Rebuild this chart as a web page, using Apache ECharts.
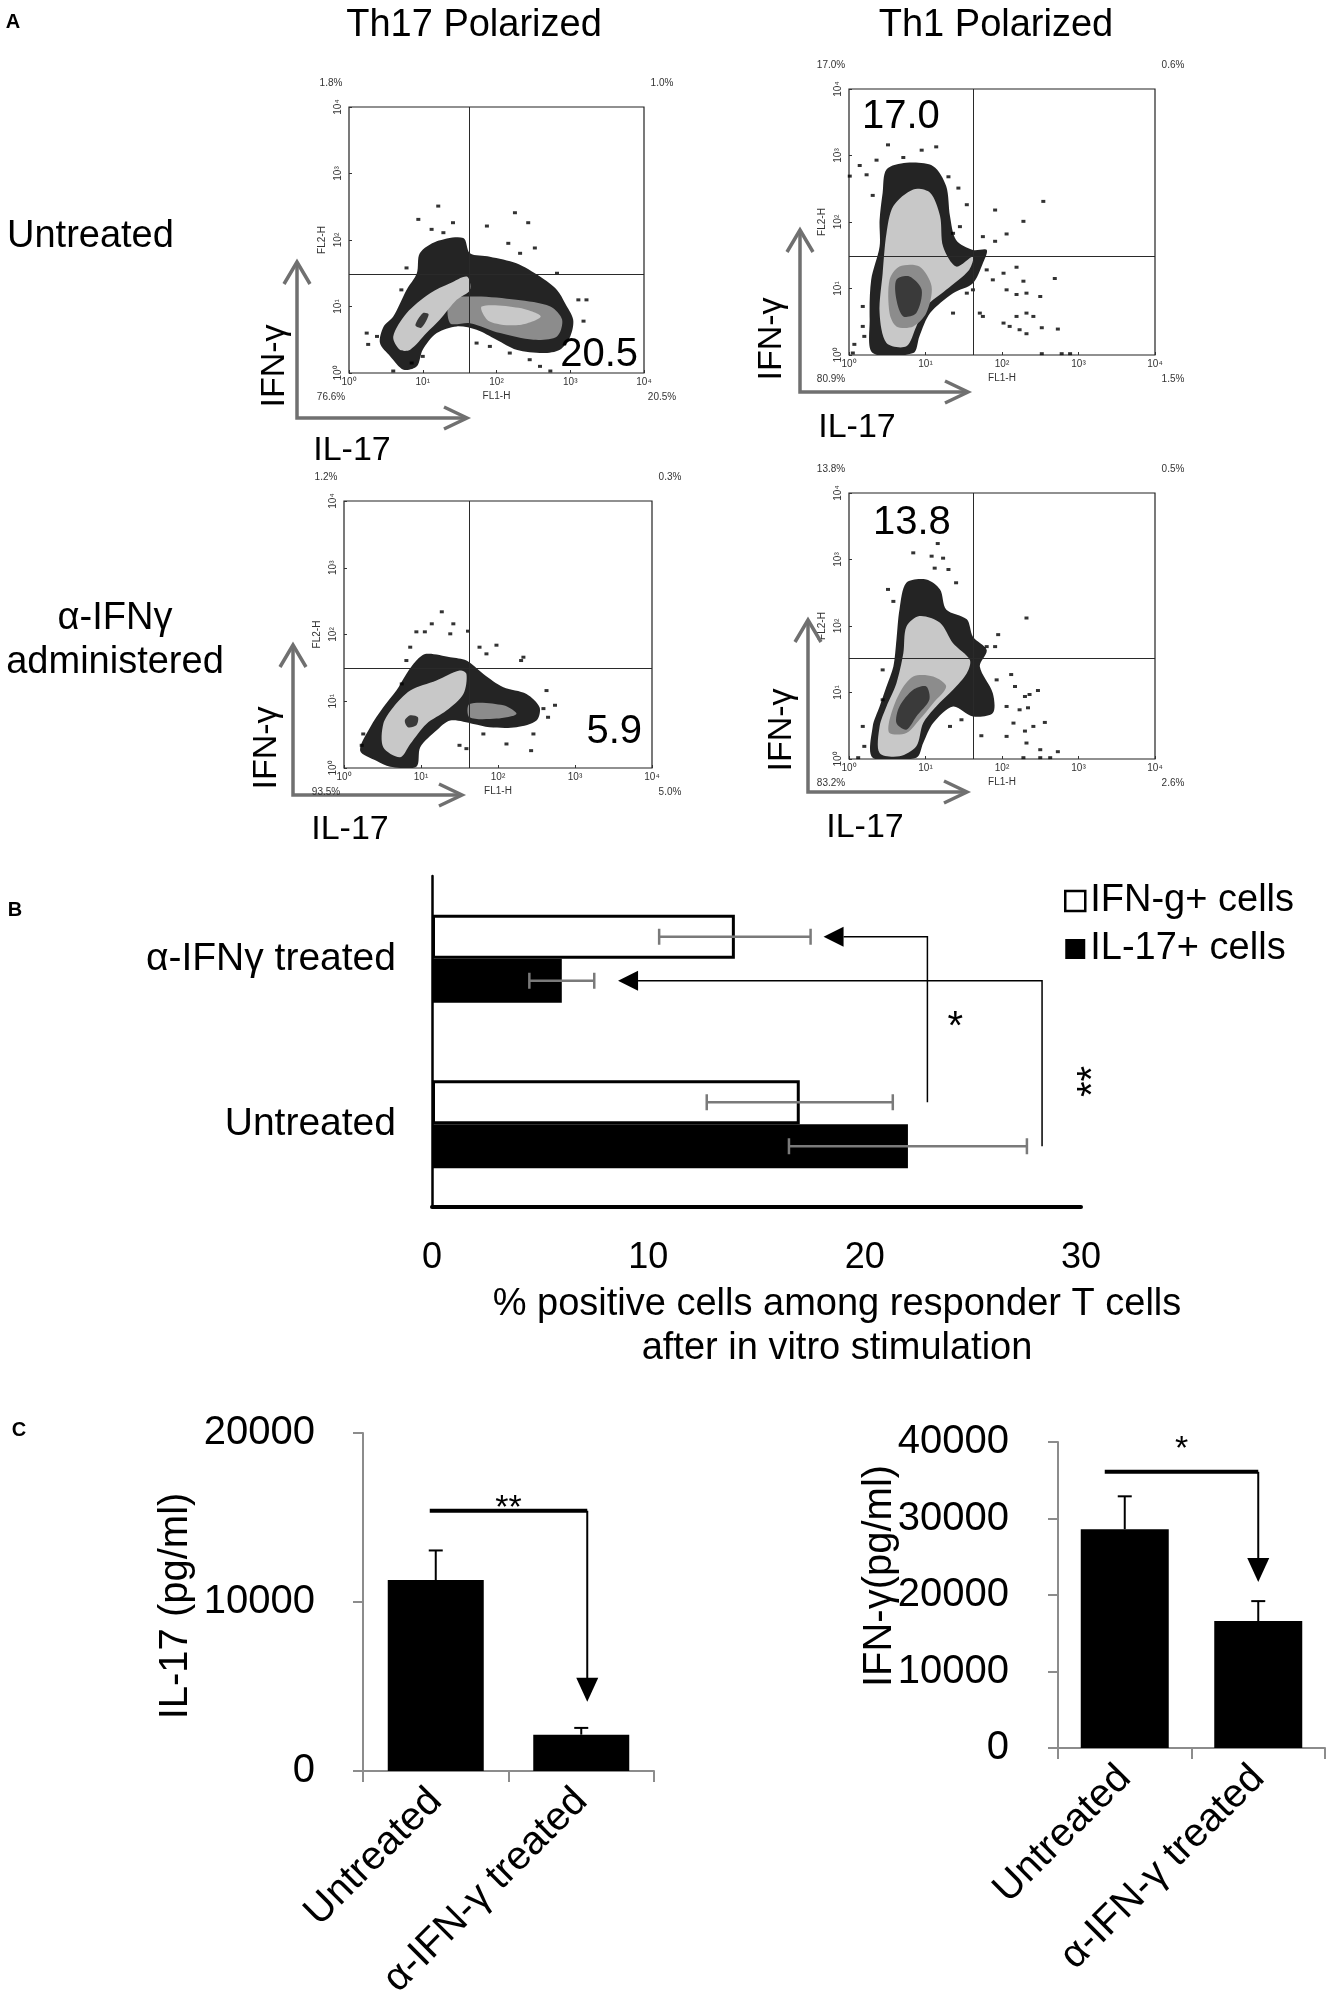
<!DOCTYPE html>
<html>
<head>
<meta charset="utf-8">
<script src="https://cdn.jsdelivr.net/npm/echarts@6/dist/echarts.min.js"></script>
<style>
  html, body { margin: 0; padding: 0; background: #fff; }
  #chart { width: 1326px; height: 2012px; }
</style>
</head>
<body>
<div id="chart"></div>
<script>
(() => {
  "use strict";

  const FONT = '"Liberation Sans", Arial, Helvetica, sans-serif';

  // ---------- panel A: flow plots, log10 units (FL1-H = IL-17, FL2-H = IFN-γ)
  const columnTitles = ["Th17 Polarized", "Th1 Polarized"];
  const rowTitles = ["Untreated", "α-IFNγ\nadministered"];
  const flowTickLabels = ["10⁰", "10¹", "10²", "10³", "10⁴"];
  const quadrantGates = [[1.63, 1.49], [1.63, 1.48], [1.63, 1.50], [1.62, 1.51]];
  const quadrantPercents = [
    ["1.8%", "1.0%", "76.6%", "20.5%"],
    ["17.0%", "0.6%", "80.9%", "1.5%"],
    ["1.2%", "0.3%", "93.5%", "5.0%"],
    ["13.8%", "0.5%", "83.2%", "2.6%"]
  ];
  const highlightValues = ["20.5", "17.0", "5.9", "13.8"];

  // density layers: [level, outline]; 0 = dark rim, 1 = light, 2 = mid, 3 = core
  const densityTh17Untreated = [
    [0, [[0.42,0.45],[0.47,0.70],[0.6,0.85],[0.78,1.25],[0.92,1.5],[0.96,1.8],[1.19,1.98],[1.55,2.03],[1.64,1.8],[1.91,1.75],[2.27,1.65],[2.59,1.45],[2.82,1.25],[2.93,1.05],[3.04,0.8],[3.0,0.55],[2.86,0.35],[2.63,0.30],[2.27,0.35],[2.0,0.5],[1.73,0.65],[1.46,0.70],[1.19,0.60],[1.0,0.35],[0.92,0.10],[0.74,0.05],[0.56,0.25]]],
    [2, [[1.37,1.1],[1.73,1.15],[2.27,1.1],[2.73,1.0],[2.89,0.8],[2.82,0.55],[2.5,0.5],[2.05,0.6],[1.64,0.75],[1.37,0.75]]],
    [1, [[1.8,1.0],[2.3,0.98],[2.6,0.85],[2.3,0.72],[1.9,0.78]]],
    [1, [[0.6,0.55],[0.78,0.9],[1.1,1.2],[1.37,1.35],[1.6,1.45],[1.64,1.25],[1.46,1.1],[1.23,0.8],[1.05,0.6],[0.83,0.35],[0.69,0.35]]],
    [3, [[0.9,0.72],[1.0,0.9],[1.08,0.88],[0.98,0.68]]]
  ];
  const densityTh1Untreated = [
    [0, [[0.31,0.03],[0.27,0.53],[0.29,1.13],[0.40,1.63],[0.40,2.03],[0.44,2.44],[0.49,2.79],[0.75,2.89],[1.1,2.84],[1.27,2.54],[1.32,2.09],[1.4,1.73],[1.62,1.58],[1.8,1.58],[1.75,1.38],[1.62,1.08],[1.36,0.93],[1.06,0.63],[0.92,0.28],[0.84,0.03]]],
    [1, [[0.49,0.18],[0.4,0.63],[0.44,1.23],[0.49,1.83],[0.58,2.24],[0.84,2.49],[1.06,2.44],[1.19,2.09],[1.23,1.63],[1.4,1.33],[1.62,1.48],[1.57,1.28],[1.27,0.98],[1.01,0.73],[0.88,0.43],[0.75,0.13]]],
    [2, [[0.53,0.63],[0.53,1.13],[0.66,1.33],[0.92,1.33],[1.08,1.03],[1.01,0.63],[0.84,0.43],[0.62,0.43]]],
    [3, [[0.62,0.83],[0.62,1.13],[0.79,1.18],[0.95,0.98],[0.88,0.63],[0.71,0.58]]]
  ];
  const densityTh17Treated = [
    [0, [[0.21,0.26],[0.34,0.61],[0.51,0.91],[0.68,1.16],[0.81,1.41],[0.94,1.61],[1.07,1.71],[1.38,1.66],[1.59,1.61],[1.81,1.41],[2.07,1.21],[2.37,1.11],[2.54,0.91],[2.50,0.71],[2.24,0.61],[1.89,0.61],[1.68,0.66],[1.38,0.71],[1.20,0.56],[0.99,0.31],[0.94,0.02],[0.6,0.02],[0.42,0.11]]],
    [2, [[1.63,0.96],[2.07,0.94],[2.24,0.81],[1.98,0.74],[1.63,0.76]]],
    [1, [[0.51,0.31],[0.51,0.66],[0.64,0.91],[0.86,1.16],[1.2,1.31],[1.5,1.46],[1.59,1.41],[1.55,1.11],[1.33,0.86],[1.07,0.66],[0.86,0.36],[0.73,0.16]]],
    [3, [[0.79,0.71],[0.86,0.79],[0.96,0.76],[0.94,0.64],[0.83,0.61]]]
  ];
  const densityTh1Treated = [
    [0, [[0.31,0.02],[0.31,0.49],[0.40,0.79],[0.49,1.09],[0.58,1.39],[0.62,1.79],[0.66,2.25],[0.75,2.65],[1.01,2.70],[1.19,2.55],[1.27,2.25],[1.54,2.10],[1.62,1.84],[1.8,1.64],[1.71,1.39],[1.88,0.99],[1.88,0.69],[1.62,0.64],[1.36,0.79],[1.1,0.54],[0.97,0.24],[0.88,0.02]]],
    [1, [[0.40,0.09],[0.40,0.49],[0.49,0.79],[0.62,1.14],[0.71,1.59],[0.75,1.99],[0.92,2.15],[1.19,2.05],[1.36,1.74],[1.58,1.49],[1.54,1.29],[1.36,1.04],[1.14,0.79],[0.97,0.54],[0.88,0.19],[0.66,0.04]]],
    [2, [[0.53,0.39],[0.53,0.59],[0.66,0.99],[0.84,1.24],[1.1,1.24],[1.27,1.09],[1.1,0.84],[0.92,0.59],[0.75,0.39]]],
    [3, [[0.62,0.54],[0.66,0.79],[0.84,1.04],[1.01,1.09],[1.05,0.89],[0.88,0.64],[0.75,0.44]]]
  ];

  // sparse events outside the dense clouds
  const eventsTh17Untreated = [[1.21,2.51],[0.94,2.31],[1.12,2.16],[1.28,2.11],[1.41,2.26],[1.87,2.21],[2.25,2.41],[2.43,2.26],[2.16,1.95],[2.32,1.8],[2.52,1.88],[2.82,1.5],[3.11,1.1],[3.22,1.1],[3.18,0.78],[0.24,0.6],[0.26,0.43],[0.38,0.55],[0.78,1.58],[0.71,1.25],[1.73,0.45],[1.91,0.4],[2.18,0.3],[2.45,0.2],[2.59,0.1],[2.73,0.03],[0.6,0.03],[0.85,0.15],[1.0,0.25]];
  const eventsTh1Untreated = [[0.51,3.16],[1.14,3.13],[0.95,3.08],[0.36,2.93],[0.14,2.85],[0.71,2.97],[0.23,2.71],[1.30,2.68],[1.43,2.51],[1.54,2.26],[0.31,2.4],[1.91,2.18],[2.28,2.01],[2.06,1.82],[2.54,2.31],[1.91,1.71],[1.75,1.78],[1.45,1.93],[1.36,1.83],[1.8,1.28],[1.88,1.13],[2.02,1.23],[2.19,1.32],[2.28,1.11],[2.06,0.98],[2.19,0.91],[2.32,0.93],[2.5,0.88],[2.69,1.15],[1.71,0.63],[1.75,0.58],[2.02,0.48],[2.1,0.43],[2.19,0.58],[2.32,0.63],[2.41,0.58],[2.32,0.32],[2.52,0.41],[2.73,0.39],[2.23,0.38],[1.62,0.98],[1.54,0.93],[1.36,0.63],[2.52,0.02],[2.78,0.02],[2.89,0.02],[0.01,2.69],[0.07,0.16],[0.18,0.73],[0.18,0.43],[0.2,0.28],[0.05,0.03]];
  const eventsTh17Treated = [[1.27,2.34],[1.14,2.16],[0.94,2.04],[1.05,2.04],[1.42,2.16],[1.38,2.01],[1.61,2.05],[1.76,1.81],[1.98,1.84],[1.85,1.71],[2.33,1.66],[2.3,1.61],[2.63,1.16],[2.74,0.94],[2.65,0.76],[2.59,0.89],[2.46,0.51],[2.11,0.36],[2.43,0.26],[1.81,0.51],[1.5,0.34],[1.59,0.29],[0.23,0.34],[0.25,0.51],[0.86,1.81],[0.75,1.26],[0.81,1.61]];
  const eventsTh1Treated = [[1.16,3.24],[0.84,3.1],[1.08,3.05],[1.23,3.02],[1.12,2.87],[1.3,2.85],[1.4,2.65],[0.51,2.55],[0.58,2.37],[2.32,2.12],[1.95,1.87],[1.91,1.69],[1.8,1.69],[0.44,1.34],[2.12,1.27],[1.93,1.19],[2.17,1.09],[2.3,0.94],[2.47,1.03],[2.36,0.97],[2.06,0.79],[2.23,0.74],[2.34,0.77],[2.15,0.54],[2.41,0.49],[2.56,0.55],[2.06,0.34],[2.3,0.42],[2.32,0.24],[2.5,0.14],[2.73,0.11],[1.73,0.35],[1.32,0.49],[1.47,0.59],[0.18,0.49],[0.2,0.19],[0.12,0.02],[2.28,0.02],[2.5,0.02],[2.63,0.02],[0.44,0.89]];

  const flowDensity = [densityTh17Untreated, densityTh1Untreated, densityTh17Treated, densityTh1Treated];
  const flowEvents = [eventsTh17Untreated, eventsTh1Untreated, eventsTh17Treated, eventsTh1Treated];

  // ---------- panel B: % positive cells
  const bCategories = ["α-IFNγ treated", "Untreated"];
  const bSeriesNames = ["IFN-g+ cells", "IL-17+ cells"];
  const ifnPositive = [14, 17];
  const ifnPositiveErr = [3.5, 4.3];
  const il17Positive = [6, 22];
  const il17PositiveErr = [1.5, 5.5];
  const bSigLineX = [22.9, 28.2];
  const bSigTipX = [18.1, 8.6];
  const bSigLabels = ["*", "**"];
  const bAxisTitle = ["% positive cells among responder T cells", "after in vitro stimulation"];

  // ---------- panel C: cytokine concentrations
  const cCategories = ["Untreated", "α-IFN-γ treated"];
  const il17Conc = [11300, 2150];
  const il17ConcErr = [1750, 400];
  const il17SigLevels = [15400, 4100];
  const ifnConc = [28600, 16600];
  const ifnConcErr = [4300, 2600];
  const ifnSigLevels = [36100, 21700];

  // ---------- layout
  const flowBoxes = [
    { left: 349, top: 107, width: 295, height: 266 },
    { left: 849, top: 89, width: 306, height: 266 },
    { left: 344, top: 501, width: 308, height: 267 },
    { left: 849, top: 493, width: 306, height: 266 }
  ];
  const flowArrows = [
    { x: 297, bottom: 418, top: 262, right: 467, ifn: [275, 366], il: [352, 451] },
    { x: 800, bottom: 392, top: 230, right: 968, ifn: [772, 339], il: [857, 428] },
    { x: 293, bottom: 795, top: 645, right: 462, ifn: [267, 748], il: [350, 830] },
    { x: 808, bottom: 792, top: 620, right: 967, ifn: [782, 730], il: [865, 828] }
  ];
  const highlightPos = [
    { x: 638, y: 355, align: "right" },
    { x: 862, y: 117, align: "left" },
    { x: 642, y: 732, align: "right" },
    { x: 873, y: 523, align: "left" }
  ];
  const densityColors = ["#242424", "#c8c8c8", "#8c8c8c", "#3a3a3a"];
  const bBarWidth = 44;
  const slotDir = 1;

  const chart = echarts.init(document.getElementById("chart"), null, { renderer: "canvas" });

  function txt(x, y, text, size, opts = {}) {
    const align = opts.align || "center";
    const vAlign = opts.verticalAlign || "middle";
    return {
      type: "text",
      x, y,
      rotation: opts.rotation || 0,
      z: 100,
      style: {
        text,
        fontSize: size,
        fontFamily: FONT,
        fontWeight: opts.bold ? "bold" : "normal",
        fill: opts.color || "#000",
        align, verticalAlign: vAlign,
        textAlign: align, textVerticalAlign: vAlign,
        lineHeight: opts.lineHeight
      }
    };
  }

  const grids = [];
  const xAxes = [];
  const yAxes = [];
  const series = [];
  const graphics = [];

  flowBoxes.forEach((b, i) => {
    grids.push({ left: b.left, top: b.top, width: b.width, height: b.height, show: true, borderColor: "#222", borderWidth: 1.2 });
    const tickStyle = { show: true, inside: true, length: 3, lineStyle: { color: "#333", width: 1 } };
    xAxes.push({
      type: "value", gridIndex: i, min: 0, max: 4, interval: 1,
      axisLine: { show: false }, splitLine: { show: false }, axisTick: tickStyle,
      axisLabel: { fontSize: 10, color: "#333", fontFamily: FONT, margin: 4, formatter: (v) => flowTickLabels[v] },
      name: "FL1-H", nameLocation: "middle", nameGap: 18,
      nameTextStyle: { fontSize: 10, color: "#333", fontFamily: FONT }
    });
    yAxes.push({
      type: "value", gridIndex: i, min: 0, max: 4, interval: 1,
      axisLine: { show: false }, splitLine: { show: false }, axisTick: tickStyle,
      axisLabel: { fontSize: 10, color: "#333", fontFamily: FONT, margin: 6, rotate: 90, formatter: (v) => flowTickLabels[v] },
      name: "FL2-H", nameLocation: "middle", nameGap: 22,
      nameTextStyle: { fontSize: 10, color: "#333", fontFamily: FONT }
    });

    const layers = flowDensity[i];
    series.push({
      type: "custom", xAxisIndex: i, yAxisIndex: i, clip: true, silent: true,
      data: layers.map((layer, k) => [layer[0], k]),
      renderItem: (params, api) => {
        const layer = layers[params.dataIndex];
        return {
          type: "polygon",
          shape: { points: layer[1].map((p) => api.coord(p)), smooth: 0.3 },
          style: { fill: densityColors[layer[0]] }
        };
      }
    });
    series.push({
      type: "scatter", xAxisIndex: i, yAxisIndex: i, silent: true,
      data: flowEvents[i], symbol: "rect", symbolSize: [4, 3],
      itemStyle: { color: "#000" },
      markLine: {
        silent: true, symbol: ["none", "none"], label: { show: false },
        lineStyle: { color: "#2a2a2a", width: 1, type: "solid" },
        data: [{ xAxis: quadrantGates[i][0] }, { yAxis: quadrantGates[i][1] }]
      }
    });

    // quadrant percentages at the corners
    const p = quadrantPercents[i];
    const r = b.left + b.width;
    const bt = b.top + b.height;
    graphics.push(txt(b.left - 18, b.top - 24, p[0], 10, { color: "#333" }));
    graphics.push(txt(r + 18, b.top - 24, p[1], 10, { color: "#333" }));
    graphics.push(txt(b.left - 18, bt + 24, p[2], 10, { color: "#333" }));
    graphics.push(txt(r + 18, bt + 24, p[3], 10, { color: "#333" }));

    const hp = highlightPos[i];
    graphics.push(txt(hp.x, hp.y, highlightValues[i], 40, { align: hp.align }));

    // gray IFN-γ / IL-17 axis arrows
    const a = flowArrows[i];
    const arrowStyle = { stroke: "#707070", lineWidth: 3.5, fill: null, lineJoin: "miter" };
    graphics.push({ type: "polyline", z: 90, shape: { points: [[a.x, a.top], [a.x, a.bottom], [a.right, a.bottom]] }, style: arrowStyle });
    graphics.push({ type: "polyline", z: 90, shape: { points: [[a.x - 13, a.top + 22], [a.x, a.top], [a.x + 13, a.top + 22]] }, style: arrowStyle });
    graphics.push({ type: "polyline", z: 90, shape: { points: [[a.right - 23, a.bottom - 11], [a.right, a.bottom], [a.right - 23, a.bottom + 11]] }, style: arrowStyle });
    graphics.push(txt(a.ifn[0], a.ifn[1], "IFN-γ", 34, { rotation: Math.PI / 2 }));
    graphics.push(txt(a.il[0], a.il[1], "IL-17", 34));
  });

  graphics.push(txt(13, 22, "A", 20, { bold: true }));
  graphics.push(txt(15, 910, "B", 20, { bold: true }));
  graphics.push(txt(19, 1430, "C", 20, { bold: true }));
  graphics.push(txt(474, 26, columnTitles[0], 38));
  graphics.push(txt(996, 26, columnTitles[1], 38));
  graphics.push(txt(7, 237, rowTitles[0], 38, { align: "left" }));
  graphics.push(txt(115, 641, rowTitles[1], 38, { lineHeight: 44 }));

  // ---------- panel B
  const gB = grids.length;
  grids.push({ left: 432, top: 876, width: 649, height: 331 });
  xAxes.push({
    type: "value", gridIndex: gB, min: 0, max: 30, interval: 10,
    axisLine: { show: true, lineStyle: { color: "#000", width: 4 } },
    axisTick: { show: false }, splitLine: { show: false },
    axisLabel: { fontSize: 36, color: "#000", fontFamily: FONT, margin: 33 }
  });
  yAxes.push({
    type: "category", gridIndex: gB, data: bCategories, inverse: true,
    axisLine: { show: true, lineStyle: { color: "#000", width: 2.5 } },
    axisTick: { show: false },
    axisLabel: { fontSize: 39, color: "#000", fontFamily: FONT, margin: 36 }
  });
  series.push({
    name: bSeriesNames[0], type: "bar", xAxisIndex: gB, yAxisIndex: gB, data: ifnPositive,
    barWidth: bBarWidth, barGap: "0%", itemStyle: { color: "#fff", borderColor: "#000", borderWidth: 3 }
  });
  series.push({
    name: bSeriesNames[1], type: "bar", xAxisIndex: gB, yAxisIndex: gB, data: il17Positive,
    barWidth: bBarWidth, barGap: "0%", itemStyle: { color: "#000" }
  });
  const slotOffset = (slot) => (slot - 0.5) * bBarWidth * slotDir;
  const bErrData = bCategories.flatMap((c, k) => [
    [ifnPositive[k], k, ifnPositiveErr[k], 0],
    [il17Positive[k], k, il17PositiveErr[k], 1]
  ]);
  series.push({
    type: "custom", xAxisIndex: gB, yAxisIndex: gB, silent: true, z: 5,
    data: bErrData, encode: { x: 0, y: 1 },
    renderItem: (params, api) => {
      const m = api.value(0), k = api.value(1), e = api.value(2), s = api.value(3);
      const y = api.coord([m, k])[1] + slotOffset(s);
      const x0 = api.coord([m - e, k])[0];
      const x1 = api.coord([m + e, k])[0];
      const st = { stroke: "#7a7a7a", lineWidth: 2.5 };
      return {
        type: "group", children: [
          { type: "line", shape: { x1: x0, y1: y, x2: x1, y2: y }, style: st },
          { type: "line", shape: { x1: x0, y1: y - 8, x2: x0, y2: y + 8 }, style: st },
          { type: "line", shape: { x1: x1, y1: y - 8, x2: x1, y2: y + 8 }, style: st }
        ]
      };
    }
  });
  const bSigLabelOffset = [[28, 8], [52, 18]];
  series.push({
    type: "custom", xAxisIndex: gB, yAxisIndex: gB, silent: true, z: 6,
    data: bSigLineX.map((x, i) => [x, i]), encode: { x: 0, y: 1 },
    renderItem: (params, api) => {
      const i = params.dataIndex;
      const yTop = api.coord([0, 0])[1] + slotOffset(i);
      const yBot = api.coord([0, 1])[1] + slotOffset(i);
      const xl = api.coord([bSigLineX[i], 0])[0];
      const xt = api.coord([bSigTipX[i], 0])[0];
      const head = 20, half = 10;
      const off = bSigLabelOffset[i];
      return {
        type: "group", children: [
          { type: "polyline", shape: { points: [[xl, yBot], [xl, yTop], [xt + head, yTop]] }, style: { stroke: "#000", lineWidth: 1.5, fill: null } },
          { type: "polygon", shape: { points: [[xt, yTop], [xt + head, yTop - half], [xt + head, yTop + half]] }, style: { fill: "#000" } },
          {
            type: "text", x: xl + off[0], y: (yTop + yBot) / 2 + off[1], rotation: i ? Math.PI / 2 : 0,
            style: { text: bSigLabels[i], fontSize: 40, fontFamily: FONT, fill: "#000", align: "center", verticalAlign: "middle" }
          }
        ]
      };
    }
  });
  graphics.push(txt(837, 1305, bAxisTitle[0], 38));
  graphics.push(txt(837, 1349, bAxisTitle[1], 38));

  // ---------- panel C
  function addConcChart(box, values, errs, sigLevels, sigLabel, sigDx, yMax, title, titlePos, labelMargin, barWidth) {
    const g = grids.length;
    grids.push(box);
    const gray = { color: "#8c8c8c", width: 2 };
    xAxes.push({
      type: "category", gridIndex: g, data: cCategories,
      axisLine: { show: true, lineStyle: gray },
      axisTick: { show: true, length: 11, lineStyle: gray },
      axisLabel: { fontSize: 40, color: "#000", fontFamily: FONT, rotate: 45, margin: 24, interval: 0 }
    });
    yAxes.push({
      type: "value", gridIndex: g, min: 0, max: yMax, interval: 10000,
      axisLine: { show: true, lineStyle: gray },
      axisTick: { show: true, length: 10, lineStyle: gray },
      splitLine: { show: false },
      axisLabel: { fontSize: 40, color: "#000", fontFamily: FONT, margin: labelMargin, formatter: (v) => String(v) }
    });
    series.push({
      type: "bar", xAxisIndex: g, yAxisIndex: g, data: values, barWidth,
      itemStyle: { color: "#000" }
    });
    series.push({
      type: "custom", xAxisIndex: g, yAxisIndex: g, silent: true, z: 5,
      data: values.map((v, k) => [k, v, errs[k]]), encode: { x: 0, y: 1 },
      renderItem: (params, api) => {
        const k = api.value(0), v = api.value(1), e = api.value(2);
        const base = api.coord([k, v]);
        const top = api.coord([k, v + e]);
        const st = { stroke: "#000", lineWidth: 2 };
        return {
          type: "group", children: [
            { type: "line", shape: { x1: base[0], y1: base[1], x2: top[0], y2: top[1] }, style: st },
            { type: "line", shape: { x1: top[0] - 7, y1: top[1], x2: top[0] + 7, y2: top[1] }, style: st }
          ]
        };
      }
    });
    series.push({
      type: "custom", xAxisIndex: g, yAxisIndex: g, silent: true, z: 6,
      data: [[0, sigLevels[0]]], encode: { x: 0, y: 1 },
      renderItem: (params, api) => {
        const lineY = api.coord([0, sigLevels[0]])[1];
        const sx = api.coord([0, sigLevels[0]])[0] + sigDx[0];
        const ex = api.coord([1, sigLevels[0]])[0] + sigDx[1];
        const tipY = api.coord([1, sigLevels[1]])[1];
        return {
          type: "group", children: [
            { type: "line", shape: { x1: sx, y1: lineY, x2: ex, y2: lineY }, style: { stroke: "#000", lineWidth: 4 } },
            { type: "line", shape: { x1: ex, y1: lineY, x2: ex, y2: tipY - 22 }, style: { stroke: "#000", lineWidth: 2 } },
            { type: "polygon", shape: { points: [[ex, tipY], [ex - 11, tipY - 24], [ex + 11, tipY - 24]] }, style: { fill: "#000" } },
            {
              type: "text", x: (sx + ex) / 2, y: lineY + sigDx[2],
              style: { text: sigLabel, fontSize: 34, fontFamily: FONT, fill: "#000", align: "center", verticalAlign: "middle" }
            }
          ]
        };
      }
    });
    graphics.push(txt(titlePos[0], titlePos[1], title, 40, { rotation: Math.PI / 2 }));
  }

  addConcChart({ left: 363, top: 1433, width: 291, height: 338 }, il17Conc, il17ConcErr, il17SigLevels, "**",
    [-6, 6, -2], 20000, "IL-17 (pg/ml)", [176, 1606], 48, 96);
  addConcChart({ left: 1058, top: 1442, width: 267, height: 306 }, ifnConc, ifnConcErr, ifnSigLevels, "*",
    [-20, 0, -22], 40000, "IFN-γ(pg/ml)", [880, 1576], 49, 88);

  chart.setOption({
    animation: false,
    backgroundColor: "#fff",
    textStyle: { fontFamily: FONT },
    grid: grids,
    xAxis: xAxes,
    yAxis: yAxes,
    legend: {
      data: [
        { name: bSeriesNames[0], itemStyle: { color: "#fff", borderColor: "#000", borderWidth: 2.5 } },
        { name: bSeriesNames[1], itemStyle: { color: "#000" } }
      ],
      orient: "vertical", left: 1059, top: 877, itemWidth: 20, itemHeight: 20, itemGap: 10,
      icon: "rect", selectedMode: false,
      textStyle: { fontSize: 38, color: "#000", fontFamily: FONT }
    },
    series,
    graphic: { elements: graphics }
  });
})();
</script>
</body>
</html>
